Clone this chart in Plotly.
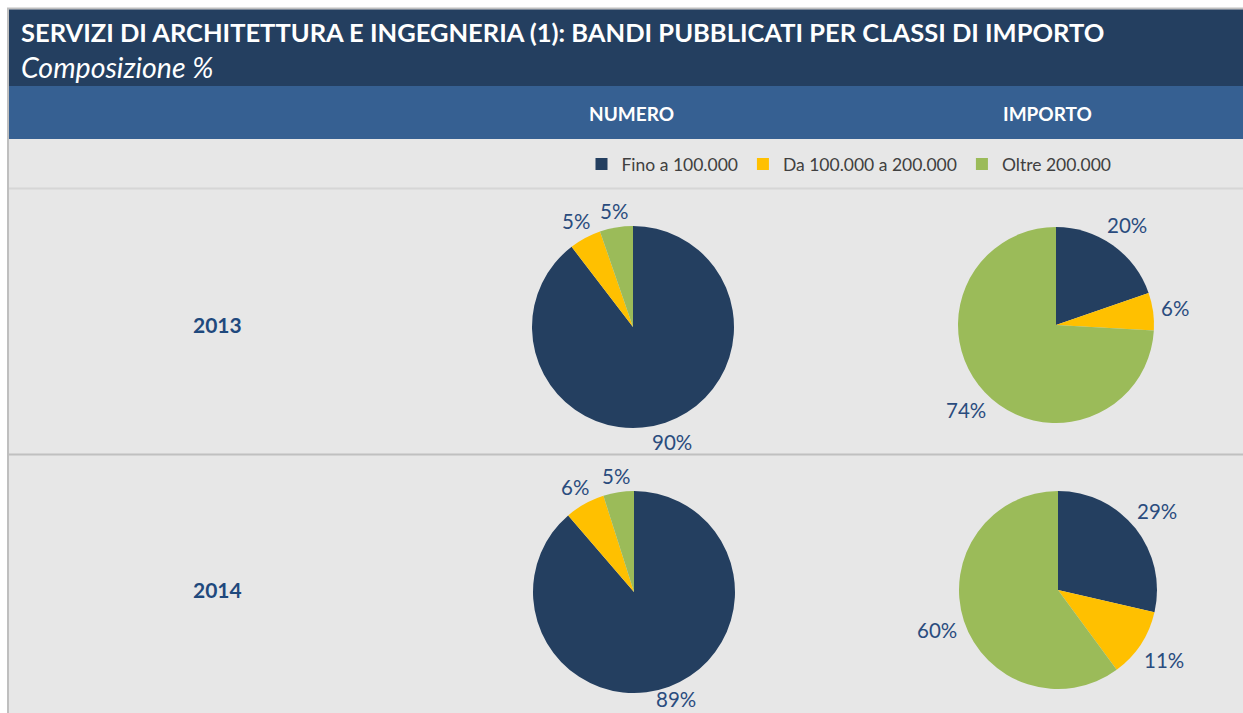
import math
import plotly.graph_objects as go

# ---- data ----
categories = ["Fino a 100.000", "Da 100.000 a 200.000", "Oltre 200.000"]
years = ["2013", "2014"]
numero_2013 = [89.6, 5.1, 5.3]
numero_2014 = [88.7, 6.4, 4.9]
importo_2013 = [19.7, 6.2, 74.1]
importo_2014 = [28.6, 11.3, 60.1]
column_titles = ["NUMERO", "IMPORTO"]
title_text = "SERVIZI DI ARCHITETTURA E INGEGNERIA (1): BANDI PUBBLICATI PER CLASSI DI IMPORTO"
subtitle_text = "Composizione %"

colors = ["#243F60", "#FFC000", "#9BBB59"]
label_color = "#2A4C7E"
W, H = 1243, 713
FONT = "Lato"
LABEL_SIZE = 20.5

def py(y):  # pixel-from-top to paper y
    return 1 - y / H

def px(x):
    return x / W

fig = go.Figure()

# pie layout: (values, center x, center y, radius) in page pixels
pies = [
    (numero_2013, 633, 327, 101),
    (importo_2013, 1056, 325, 98),
    (numero_2014, 634, 592, 101),
    (importo_2014, 1058, 590, 99),
]

annotations = []
for i, (vals, cx, cy, r) in enumerate(pies):
    fig.add_trace(go.Pie(
        labels=categories,
        values=vals,
        sort=False,
        direction="clockwise",
        rotation=0,
        marker=dict(colors=colors, line=dict(width=0)),
        textinfo="none",
        domain=dict(x=[px(cx - r), px(cx + r)], y=[py(cy + r), py(cy - r)]),
        showlegend=(i == 0),
        hoverinfo="label+percent",
    ))
    # outside-end data labels derived from the slice angles
    total = sum(vals)
    cum = 0.0
    for v in vals:
        mid = (cum + v / 2) / total * 2 * math.pi
        cum += v
        txt = f"{round(v / total * 100)}%"
        w = len(txt) * 0.62 * LABEL_SIZE
        h = LABEL_SIZE * 0.5
        s, c = math.sin(mid), math.cos(mid)
        d = r + 9 + abs(s) * w / 2 + abs(c) * h / 2
        lx = cx + s * d
        ly = min(cy - c * d, H - 14)  # keep label inside the picture
        annotations.append(dict(
            text=txt, x=px(lx), y=py(ly), xref="paper", yref="paper",
            xanchor="center", yanchor="middle", showarrow=False,
            font=dict(color=label_color, size=LABEL_SIZE, family=FONT)))

shapes = []
shapes.append(dict(type="rect", xref="paper", yref="paper", x0=px(8), x1=1.01, y0=-0.01, y1=py(8.5),
                   fillcolor="#E7E7E7", line=dict(color="#BFBFBF", width=2), layer="below"))
shapes.append(dict(type="rect", xref="paper", yref="paper", x0=px(9), x1=1.01, y0=py(86), y1=py(9.5),
                   fillcolor="#243F60", line=dict(width=0), layer="below"))
shapes.append(dict(type="rect", xref="paper", yref="paper", x0=px(9), x1=1.01, y0=py(139), y1=py(86),
                   fillcolor="#366092", line=dict(width=0), layer="below"))
shapes.append(dict(type="line", xref="paper", yref="paper", x0=px(9), x1=1.01, y0=py(188.5), y1=py(188.5),
                   line=dict(color="#D6D6D6", width=2), layer="below"))
shapes.append(dict(type="line", xref="paper", yref="paper", x0=px(9), x1=1.01, y0=py(454.5), y1=py(454.5),
                   line=dict(color="#C0C0C0", width=2), layer="below"))

annotations += [
    dict(text="<b>" + title_text + "</b>", x=px(19), y=py(32), xref="paper", yref="paper",
         xanchor="left", yanchor="middle", showarrow=False,
         font=dict(color="white", size=25.5, family=FONT)),
    dict(text="<i>" + subtitle_text + "</i>", x=px(19), y=py(67), xref="paper", yref="paper",
         xanchor="left", yanchor="middle", showarrow=False,
         font=dict(color="white", size=28.5, family=FONT)),
    dict(text="<b>" + column_titles[0] + "</b>", x=px(631), y=py(113), xref="paper", yref="paper",
         xanchor="center", yanchor="middle", showarrow=False,
         font=dict(color="white", size=19, family=FONT)),
    dict(text="<b>" + column_titles[1] + "</b>", x=px(1047), y=py(113), xref="paper", yref="paper",
         xanchor="center", yanchor="middle", showarrow=False,
         font=dict(color="white", size=19, family=FONT)),
    dict(text="<b>" + years[0] + "</b>", x=px(217), y=py(324), xref="paper", yref="paper",
         xanchor="center", yanchor="middle", showarrow=False,
         font=dict(color="#1F497D", size=21, family=FONT)),
    dict(text="<b>" + years[1] + "</b>", x=px(217), y=py(589), xref="paper", yref="paper",
         xanchor="center", yanchor="middle", showarrow=False,
         font=dict(color="#1F497D", size=21, family=FONT)),
]

fig.update_layout(
    width=W, height=H,
    margin=dict(l=0, r=0, t=0, b=0),
    paper_bgcolor="white",
    plot_bgcolor="white",
    shapes=shapes,
    annotations=annotations,
    font=dict(family=FONT),
    legend=dict(orientation="h", x=px(849), y=py(164), xanchor="center", yanchor="middle",
                font=dict(size=17.5, color="#404040", family=FONT),
                bgcolor="rgba(0,0,0,0)", itemclick=False, itemdoubleclick=False),
)

fig.write_html("out.html", config={"displayModeBar": False},
               post_script="document.body.style.margin='0px';document.body.style.overflow='hidden';")
